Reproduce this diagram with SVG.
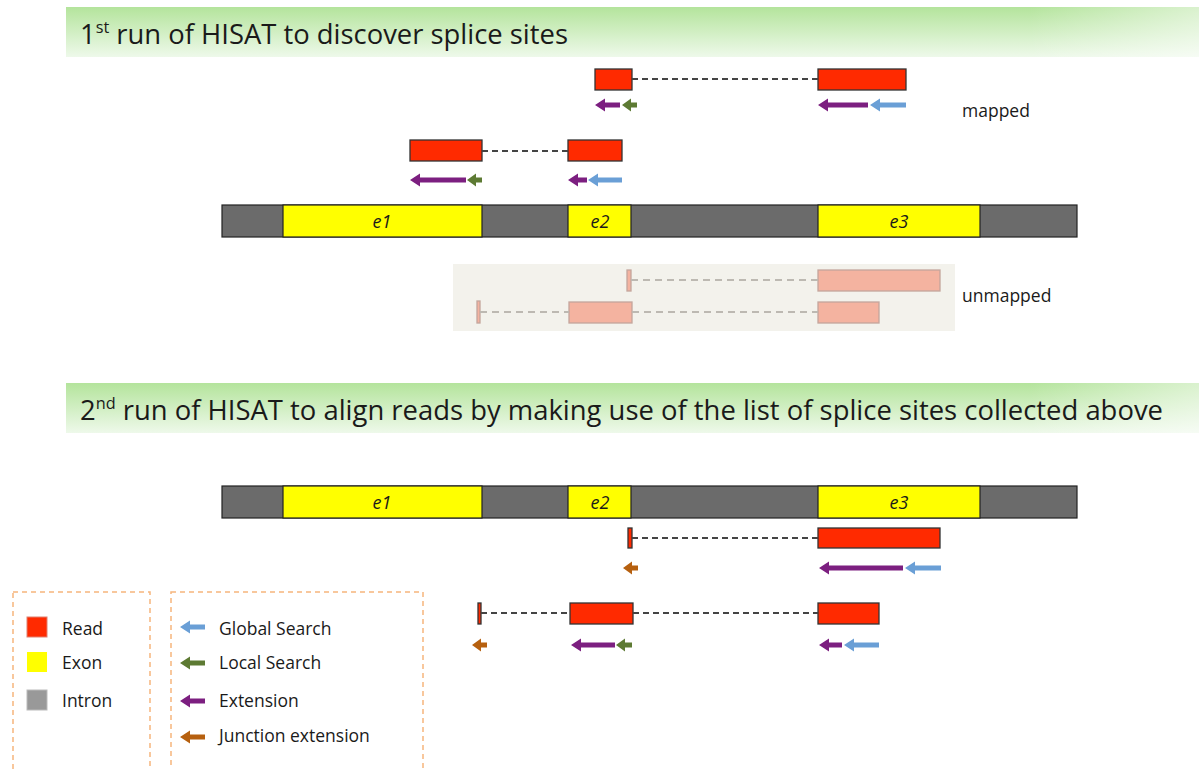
<svg xmlns="http://www.w3.org/2000/svg" width="1199" height="769" viewBox="0 0 1199 769">
<defs>
<linearGradient id="ban" x1="0" y1="0" x2="0" y2="1">
<stop offset="0" stop-color="#b4e49c"/>
<stop offset="1" stop-color="#eef9ea"/>
</linearGradient>
<linearGradient id="banR" x1="0" y1="0" x2="1" y2="0">
<stop offset="0.85" stop-color="#ffffff" stop-opacity="0"/>
<stop offset="1" stop-color="#ffffff" stop-opacity="0.5"/>
</linearGradient>
</defs>
<style>
.title{font-family:"Open Sans","Liberation Sans",sans-serif;font-size:27px;fill:#1a1a1a}
.lbl{font-family:"Open Sans","Liberation Sans",sans-serif;font-size:17.5px;fill:#1a1a1a}
.ex{font-family:"Open Sans","Liberation Sans",sans-serif;font-size:18px;font-style:italic;fill:#1a1a1a;text-anchor:middle}
.intron{fill:#6b6b6b;stroke:#222;stroke-width:1.2}
.exon{fill:#ffff00;stroke:#222;stroke-width:1.2}
.read{fill:#ff2a00;stroke:#333;stroke-width:1.3}
.ureads{fill:#f4b3a0;stroke:#c4a59c;stroke-width:1.3}
.dash{stroke:#444;stroke-width:2;stroke-dasharray:6 4;fill:none}
.udash{stroke:#bdb9b2;stroke-width:2;stroke-dasharray:7 5;fill:none}
.blue{fill:#6a9fd6}
.green{fill:#5d7a33}
.purple{fill:#7c1f80}
.orange{fill:#b6600f}
.lbox{fill:none;stroke:#f6b57c;stroke-width:1.5;stroke-dasharray:5 4}
</style>

<g id="banner1">
<rect x="66" y="7" width="1133" height="50" fill="url(#ban)"/>
<rect x="66" y="7" width="1133" height="50" fill="url(#banR)"/>
<text class="title" x="80" y="44" textLength="488" lengthAdjust="spacingAndGlyphs">1<tspan font-size="16" dy="-11">st</tspan><tspan dy="11"> run of HISAT to discover splice sites</tspan></text>
</g>

<g id="mapped-read-1">
<rect class="read" x="595" y="69" width="37" height="21"/>
<rect class="read" x="818" y="69" width="88" height="21"/>
</g>
<g id="mapped-read-2">
<rect class="read" x="410" y="140" width="72" height="21"/>
<rect class="read" x="568" y="140" width="54" height="21"/>
</g>
<text id="mapped-label" class="lbl" x="962" y="117">mapped</text>

<g id="genome1">
<rect class="intron" x="222" y="205" width="855" height="32"/>
<rect class="exon" x="283" y="205" width="199" height="32"/>
<rect class="exon" x="568" y="205" width="63" height="32"/>
<rect class="exon" x="818" y="205" width="162" height="32"/>
<text class="ex" x="382" y="228">e1</text>
<text class="ex" x="600" y="228">e2</text>
<text class="ex" x="899" y="228">e3</text>
</g>

<g id="unmapped">
<rect x="453" y="264" width="502" height="67" fill="#f3f2ec"/>
<rect class="ureads" x="627" y="270" width="4" height="21"/>
<rect class="ureads" x="818" y="270" width="122" height="21"/>
<rect class="ureads" x="477" y="301" width="3" height="22"/>
<rect class="ureads" x="569" y="302" width="63" height="21"/>
<rect class="ureads" x="818" y="302" width="61" height="21"/>
</g>
<text id="unmapped-label" class="lbl" x="962" y="302">unmapped</text>

<g id="banner2">
<rect x="66" y="383" width="1133" height="50" fill="url(#ban)"/>
<rect x="66" y="383" width="1133" height="50" fill="url(#banR)"/>
<text class="title" x="80" y="420" textLength="1083" lengthAdjust="spacingAndGlyphs">2<tspan font-size="16" dy="-11">nd</tspan><tspan dy="11"> run of HISAT to align reads by making use of the list of splice sites collected above</tspan></text>
</g>

<g id="genome2">
<rect class="intron" x="222" y="486" width="855" height="32"/>
<rect class="exon" x="283" y="486" width="199" height="32"/>
<rect class="exon" x="568" y="486" width="63" height="32"/>
<rect class="exon" x="818" y="486" width="162" height="32"/>
<text class="ex" x="382" y="509">e1</text>
<text class="ex" x="600" y="509">e2</text>
<text class="ex" x="899" y="509">e3</text>
</g>

<g id="aligned-read-1">
<rect class="read" x="628" y="528" width="4" height="20"/>
<rect class="read" x="818" y="528" width="122" height="20"/>
</g>
<g id="aligned-read-2">
<rect class="read" x="478" y="603" width="3" height="21"/>
<rect class="read" x="570" y="603" width="63" height="21"/>
<rect class="read" x="818" y="603" width="61" height="21"/>
</g>

<g id="connectors">
<line class="dash" x1="632" y1="79" x2="818" y2="79"/>
<line class="dash" x1="482" y1="151" x2="568" y2="151"/>
<line class="udash" x1="631" y1="280" x2="818" y2="280"/>
<line class="udash" x1="480" y1="312" x2="569" y2="312"/>
<line class="udash" x1="632" y1="312" x2="818" y2="312"/>
<line class="dash" x1="632" y1="538" x2="818" y2="538"/>
<line class="dash" x1="481" y1="613" x2="570" y2="613"/>
<line class="dash" x1="633" y1="613" x2="818" y2="613"/>
</g>

<g id="arrows">
<polygon class="purple" points="595,105 605,98.5 605,102.5 620,102.5 620,107.5 605,107.5 605,111.5"/>
<polygon class="green" points="622,105 631,98.5 631,102.5 637,102.5 637,107.5 631,107.5 631,111.5"/>
<polygon class="purple" points="818,105 828,98.5 828,102.5 868,102.5 868,107.5 828,107.5 828,111.5"/>
<polygon class="blue" points="870,105 880,98.5 880,102.5 906,102.5 906,107.5 880,107.5 880,111.5"/>

<polygon class="purple" points="410,180 420,173.5 420,177.5 466,177.5 466,182.5 420,182.5 420,186.5"/>
<polygon class="green" points="467,180 476,173.5 476,177.5 482,177.5 482,182.5 476,182.5 476,186.5"/>
<polygon class="purple" points="568,180 578,173.5 578,177.5 587,177.5 587,182.5 578,182.5 578,186.5"/>
<polygon class="blue" points="588,180 598,173.5 598,177.5 622,177.5 622,182.5 598,182.5 598,186.5"/>

<polygon class="orange" points="623,568 632,561.5 632,565.5 638,565.5 638,570.5 632,570.5 632,574.5"/>
<polygon class="purple" points="819,568 829,561.5 829,565.5 903,565.5 903,570.5 829,570.5 829,574.5"/>
<polygon class="blue" points="905,568 915,561.5 915,565.5 941,565.5 941,570.5 915,570.5 915,574.5"/>

<polygon class="orange" points="472,645 481,638.5 481,642.5 487,642.5 487,647.5 481,647.5 481,651.5"/>
<polygon class="purple" points="571,645 581,638.5 581,642.5 615,642.5 615,647.5 581,647.5 581,651.5"/>
<polygon class="green" points="616,645 625,638.5 625,642.5 632,642.5 632,647.5 625,647.5 625,651.5"/>
<polygon class="purple" points="819,645 829,638.5 829,642.5 842,642.5 842,647.5 829,647.5 829,651.5"/>
<polygon class="blue" points="844,645 854,638.5 854,642.5 879,642.5 879,647.5 854,647.5 854,651.5"/>
</g>

<g id="legend-features">
<rect class="lbox" x="13" y="592" width="137" height="190"/>
<rect x="27" y="617" width="20" height="20" fill="#ff2a00" stroke="#e08070" stroke-width="1"/>
<text class="lbl" x="62" y="635">Read</text>
<rect x="27" y="652" width="20" height="20" fill="#ffff00"/>
<text class="lbl" x="62" y="669">Exon</text>
<rect x="27" y="690" width="20" height="20" fill="#999999" stroke="#bbbbbb" stroke-width="1"/>
<text class="lbl" x="62" y="707">Intron</text>
</g>

<g id="legend-searches">
<rect class="lbox" x="171" y="592" width="252" height="190"/>
<polygon class="blue" points="180,627 190,620.5 190,624.5 205,624.5 205,629.5 190,629.5 190,633.5"/>
<text class="lbl" x="219" y="635">Global Search</text>
<polygon class="green" points="180,663 190,656.5 190,660.5 205,660.5 205,665.5 190,665.5 190,669.5"/>
<text class="lbl" x="219" y="669">Local Search</text>
<polygon class="purple" points="180,701 190,694.5 190,698.5 205,698.5 205,703.5 190,703.5 190,707.5"/>
<text class="lbl" x="219" y="707">Extension</text>
<polygon class="orange" points="180,737 190,730.5 190,734.5 205,734.5 205,739.5 190,739.5 190,743.5"/>
<text class="lbl" x="219" y="742">Junction extension</text>
</g>
</svg>
